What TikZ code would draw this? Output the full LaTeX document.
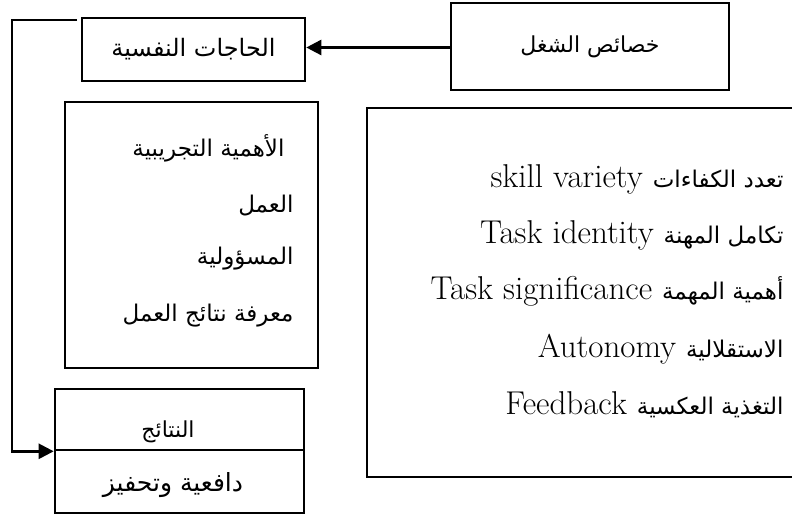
\documentclass[tikz,border=0pt]{standalone}
\usepackage{fontspec}
\usetikzlibrary{arrows.meta}
\TeXXeTstate=1
\newfontfamily\arabicfont[Script=Arabic]{DejaVu Sans}
\newcommand{\ar}[1]{{\arabicfont\beginR #1\endR}}
\newcommand{\arsm}[1]{{\arabicfont\fontsize{23}{27}\selectfont\beginR #1\endR}}

\tikzset{
  box/.style={draw, line width=2.6pt, inner sep=0pt},
  link/.style={line width=2.6pt},
  tip/.style={-{Triangle[length=15pt,width=15pt]}},
  arlist/.style={font=\fontsize{23}{27}\selectfont, anchor=east},
  mixline/.style={font=\fontsize{33}{38}\selectfont, anchor=base east},
}

\begin{document}
\begin{tikzpicture}[x=1pt, y=-1pt]
  \clip (0,0) rectangle (792,526);
  \fill[white] (0,0) rectangle (792,526);

  % top row: needs box and job characteristics box
  \node[box, minimum width=223pt, minimum height=63pt, font=\fontsize{24}{28}\selectfont] (needs) at (193.5,49.5) {\ar{الحاجات النفسية}};
  \node[box, minimum width=278pt, minimum height=87pt, font=\fontsize{22}{26}\selectfont] (jobchar) at (590,46.5) {\ar{خصائص الشغل}};

  % list of psychological states
  \node[box, minimum width=253pt, minimum height=266pt] (needlist) at (191.5,235) {};
  \node[arlist] (n1) at (288,148) {\ar{الأهمية التجريبية}};
  \node[arlist] (n2) at (297,206) {\ar{العمل}};
  \node[arlist] (n3) at (297,259) {\ar{المسؤولية}};
  \node[arlist] (n4) at (297,316) {\ar{معرفة نتائج العمل}};

  % list of core job dimensions (right edge runs off the page)
  \node[box, minimum width=440pt, minimum height=369pt] (charlist) at (587,292.5) {};
  \node[mixline] (c1) at (787,188) {skill variety \arsm{تعدد الكفاءات}};
  \node[mixline] (c2) at (787,244) {Task identity \arsm{تكامل المهنة}};
  \node[mixline] (c3) at (787,300) {Task significance \arsm{أهمية المهمة}};
  \node[mixline] (c4) at (787,357) {Autonomy \arsm{الاستقلالية}};
  \node[mixline] (c5) at (787,414) {Feedback \arsm{التغذية العكسية}};

  % outcomes box, split in two
  \node[box, minimum width=249pt, minimum height=61pt] (results) at (179.5,419.5) {};
  \node[box, minimum width=249pt, minimum height=63pt] (motiv) at (179.5,481.5) {};
  \node[font=\fontsize{22}{26}\selectfont] (rt) at (168,432) {\ar{النتائج}};
  \node[font=\fontsize{25}{29}\selectfont] (mt) at (173,485) {\ar{دافعية وتحفيز}};

  % connectors
  \draw[link, tip] (jobchar.west |- 0,47.5) -- (needs.east |- 0,47.5);
  \coordinate (loopstart) at (77,20);
  \coordinate (loopcorner) at (12,20);
  \draw[link, tip] (loopstart) -- (loopcorner) |- (results.south west);
\end{tikzpicture}
\end{document}
